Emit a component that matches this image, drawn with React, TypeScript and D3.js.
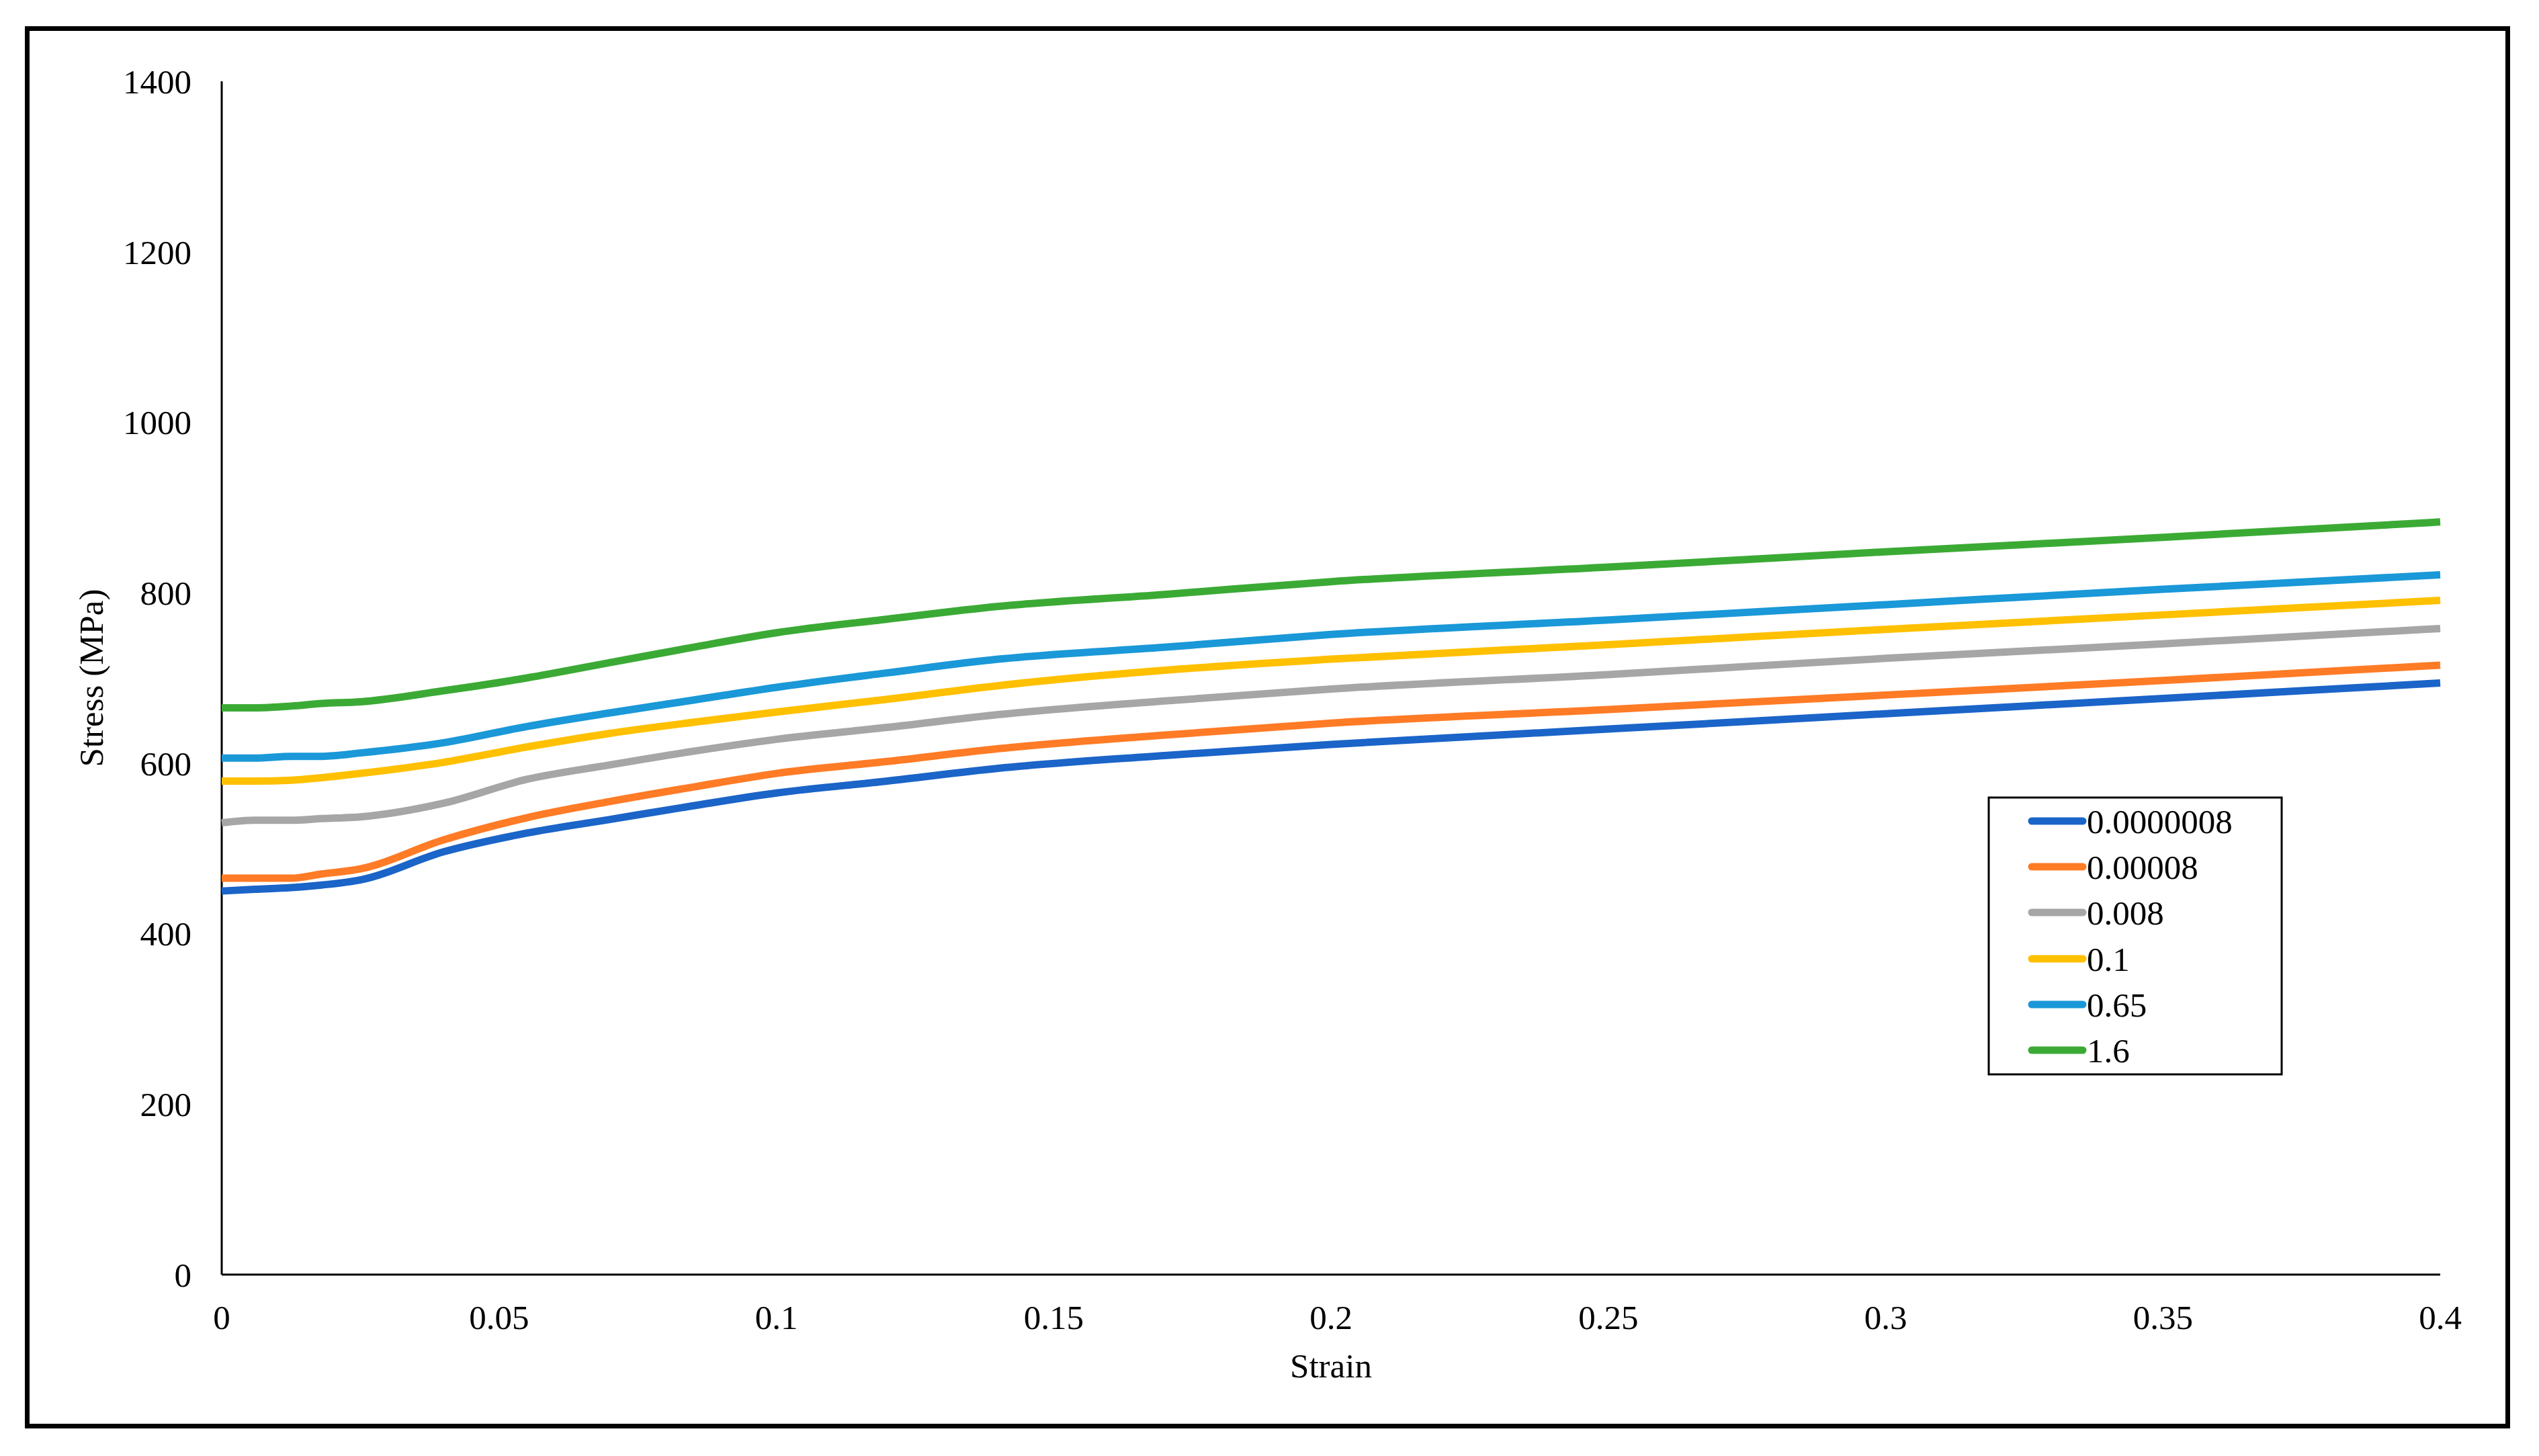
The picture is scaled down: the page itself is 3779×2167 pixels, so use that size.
import React from "react";
import * as d3 from "d3";

const strain = [0, 0.006, 0.0125, 0.018, 0.025, 0.04, 0.055, 0.07, 0.085, 0.1, 0.12, 0.14, 0.17, 0.2, 0.25, 0.3, 0.35, 0.4];

const s_0000008 = [450, 452, 454, 457, 463, 496, 518, 534, 550, 565, 579, 594, 609, 622, 640, 658, 676, 694];
const s_00008 = [465, 465, 465, 470, 476, 510, 536, 555, 572, 588, 602, 617, 633, 647, 663, 680, 697, 715];
const s_008 = [530, 533, 533, 535, 537, 553, 581, 598, 614, 628, 642, 657, 673, 687, 704, 723, 740, 758];
const s_01 = [579, 579, 580, 583, 588, 601, 619, 635, 648, 660, 675, 691, 709, 722, 739, 757, 774, 791];
const s_065 = [606, 606, 608, 608, 612, 624, 643, 659, 674, 689, 706, 722, 736, 751, 768, 786, 804, 821];
const s_16 = [665, 665, 667, 670, 672, 685, 700, 718, 736, 753, 769, 784, 798, 813, 830, 848, 865, 883];

const seriesNames = ["0.0000008", "0.00008", "0.008", "0.1", "0.65", "1.6"];
const seriesValues = [s_0000008, s_00008, s_008, s_01, s_065, s_16];
const seriesColors = ["#1B64C8", "#FF7B26", "#A6A6A6", "#FFC000", "#1A98D8", "#3BAA35"];

const yTicks = [0, 200, 400, 600, 800, 1000, 1200, 1400];
const xTicks = [0, 0.05, 0.1, 0.15, 0.2, 0.25, 0.3, 0.35, 0.4];
const xTickLabels = ["0", "0.05", "0.1", "0.15", "0.2", "0.25", "0.3", "0.35", "0.4"];

const W = 3779;
const H = 2167;
const FONT = "'Liberation Serif', 'Times New Roman', serif";
const FS = 51;

export default function App() {
  const x = d3.scaleLinear().domain([0, 0.4]).range([330, 3632]);
  const y = d3.scaleLinear().domain([0, 1400]).range([1897, 121]);
  const line = d3
    .line<[number, number]>()
    .x((d) => x(d[0]))
    .y((d) => y(d[1]))
    .curve(d3.curveMonotoneX);

  const legendX = 2960;
  const legendY = 1187;
  const legendW = 436;
  const legendH = 412;
  const rowY = [1222, 1290, 1358, 1427, 1495, 1563];

  return (
    <svg
      width={W}
      height={H}
      viewBox={`0 0 ${W} ${H}`}
      style={{ position: "absolute", left: 0, top: 0, background: "#fff" }}
    >
      <rect x={0} y={0} width={W} height={H} fill="#fff" />
      <rect x={40.5} y={42.5} width={3692} height={2080} fill="none" stroke="#000" strokeWidth={7} />

      {/* axes */}
      <line x1={x(0)} x2={x(0)} y1={y(0)} y2={y(1400)} stroke="#000" strokeWidth={3} />
      <line x1={x(0)} x2={x(0.4)} y1={y(0)} y2={y(0)} stroke="#000" strokeWidth={3} />

      {yTicks.map((t) => (
        <text
          key={"y" + t}
          x={285}
          y={y(t)}
          dy="0.35em"
          textAnchor="end"
          fontFamily={FONT}
          fontSize={FS}
          fill="#000"
        >
          {t}
        </text>
      ))}
      {xTicks.map((t, i) => (
        <text
          key={"x" + t}
          x={x(t)}
          y={1978}
          textAnchor="middle"
          fontFamily={FONT}
          fontSize={FS}
          fill="#000"
        >
          {xTickLabels[i]}
        </text>
      ))}

      <text x={x(0.2)} y={2050} textAnchor="middle" fontFamily={FONT} fontSize={FS} fill="#000">
        Strain
      </text>
      <text
        transform={`translate(153, ${(y(0) + y(1400)) / 2}) rotate(-90)`}
        textAnchor="middle"
        fontFamily={FONT}
        fontSize={FS}
        fill="#000"
      >
        Stress (MPa)
      </text>

      {seriesValues.map((vals, i) => (
        <path
          key={"s" + i}
          d={line(strain.map((s, j) => [s, vals[j]] as [number, number])) || ""}
          fill="none"
          stroke={seriesColors[i]}
          strokeWidth={11}
          strokeLinejoin="round"
        />
      ))}

      <rect x={legendX} y={legendY} width={legendW} height={legendH} fill="#fff" stroke="#000" strokeWidth={3} />
      {seriesNames.map((n, i) => (
        <g key={"l" + i}>
          <line
            x1={3024}
            x2={3100}
            y1={rowY[i]}
            y2={rowY[i]}
            stroke={seriesColors[i]}
            strokeWidth={11}
            strokeLinecap="round"
          />
          <text x={3106} y={rowY[i] + 18} fontFamily={FONT} fontSize={FS} fill="#000">
            {n}
          </text>
        </g>
      ))}
    </svg>
  );
}
